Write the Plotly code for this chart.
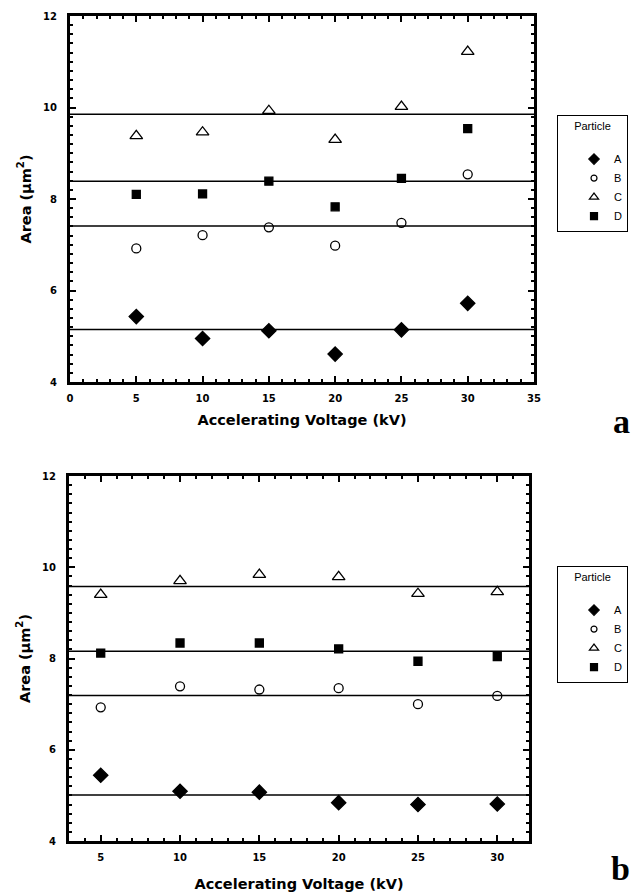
import plotly.graph_objects as go

OFF = 8            # default page margin of the html body
W, H = 639 - OFF, 892 - OFF

voltage = [5, 10, 15, 20, 25, 30]
particles = ["A", "B", "C", "D"]

# panel a values (area, µm²)
a_A = [5.43, 4.95, 5.12, 4.61, 5.14, 5.72]
a_B = [6.92, 7.21, 7.38, 6.98, 7.48, 8.54]
a_C = [9.38, 9.46, 9.93, 9.30, 10.02, 11.22]
a_D = [8.10, 8.11, 8.39, 7.83, 8.45, 9.54]
a_lines = [5.15, 7.41, 9.85, 8.39]

# panel b values
b_A = [5.44, 5.09, 5.07, 4.84, 4.80, 4.81]
b_B = [6.93, 7.39, 7.32, 7.35, 7.00, 7.18]
b_C = [9.40, 9.70, 9.84, 9.79, 9.42, 9.46]
b_D = [8.12, 8.34, 8.34, 8.21, 7.94, 8.04]
b_lines = [5.01, 7.19, 9.58, 8.16]

x_title = "Accelerating Voltage (kV)"
y_title = "Area (µm<sup>2</sup>)"

symbols = {"A": "diamond", "B": "circle-open", "C": "triangle-up-open", "D": "square"}
sizes = {"A": 11, "B": 9, "C": 11, "D": 8}
legend_sizes = {"A": 8, "B": 6, "C": 8, "D": 7}


def px(v):
    return (v - OFF) / W


def py(v):
    return 1 - (v - OFF) / H


fig = go.Figure()


def add_panel(series, xa, ya, legend):
    for name, vals in zip(particles, series):
        fig.add_trace(go.Scatter(
            x=voltage, y=vals, mode="markers", name=name,
            xaxis=xa, yaxis=ya, showlegend=False,
            marker=dict(symbol=symbols[name], size=sizes[name], color="black",
                        line=dict(color="black", width=1.3)),
        ))
    # legend entries (smaller symbols, as in the original key)
    for name in particles:
        fig.add_trace(go.Scatter(
            x=[None], y=[None], mode="markers", name=name,
            xaxis=xa, yaxis=ya, legend=legend, showlegend=True,
            marker=dict(symbol=symbols[name], size=legend_sizes[name], color="black",
                        line=dict(color="black", width=1.2)),
        ))


add_panel([a_A, a_B, a_C, a_D], "x", "y", "legend")
add_panel([b_A, b_B, b_C, b_D], "x2", "y2", "legend2")

for v in a_lines:
    fig.add_shape(type="line", xref="x domain", yref="y", x0=0, x1=1, y0=v, y1=v,
                  line=dict(color="black", width=1.5), layer="below")
for v in b_lines:
    fig.add_shape(type="line", xref="x2 domain", yref="y2", x0=0, x1=1, y0=v, y1=v,
                  line=dict(color="black", width=1.5), layer="below")

tickfont = dict(family="DejaVu Sans", size=10, color="black", weight="bold")
titlefont = dict(family="DejaVu Sans", size=14.5, color="black", weight="bold")


def xaxis(domain, rng, anchor, standoff):
    return dict(domain=domain, range=rng, anchor=anchor, tick0=0, dtick=5,
                showgrid=False, zeroline=False, showline=True, linewidth=3, linecolor="black",
                mirror="allticks", ticks="inside", ticklen=6, tickwidth=2, tickcolor="black",
                minor=dict(dtick=1, ticks="inside", ticklen=3, tickwidth=2, tickcolor="black"),
                tickfont=tickfont, ticklabelstandoff=5,
                title=dict(text=x_title, font=titlefont, standoff=standoff))


def yaxis(domain, anchor):
    return dict(domain=domain, range=[4, 12], anchor=anchor, tick0=0, dtick=2,
                showgrid=False, zeroline=False, showline=True, linewidth=3, linecolor="black",
                mirror="allticks", ticks="inside", ticklen=6, tickwidth=2, tickcolor="black",
                minor=dict(dtick=0.2, ticks="inside", ticklen=3, tickwidth=2, tickcolor="black"),
                tickfont=tickfont, ticklabelstandoff=8,
                title=dict(text=y_title, font=titlefont, standoff=9))


legend_common = dict(
    bgcolor="white", bordercolor="black", borderwidth=1,
    font=dict(family="Liberation Sans", size=11, color="black"),
    title=dict(text="Particle<br> ", side="top center",
               font=dict(family="Liberation Sans", size=11, color="black")),
    xanchor="left", yanchor="top", indentation=16, entrywidth=80,
)

fig.update_layout(
    width=W, height=H,
    margin=dict(l=0, r=0, t=0, b=0, autoexpand=False),
    paper_bgcolor="white", plot_bgcolor="white",
    showlegend=True,
    xaxis=xaxis([px(70), px(534)], [0, 35], "y", 12),
    yaxis=yaxis([py(382), py(16)], "x"),
    xaxis2=xaxis([px(69), px(529)], [3, 32], "y2", 19),
    yaxis2=yaxis([py(841), py(476)], "x2"),
    legend=dict(x=px(557), y=py(115), **legend_common),
    legend2=dict(x=px(557), y=py(566), **legend_common),
    annotations=[
        dict(text="a", xref="paper", yref="paper", x=px(621), y=py(421),
             xanchor="center", yanchor="middle", showarrow=False,
             font=dict(family="Liberation Serif", size=34, color="black", weight="bold")),
        dict(text="b", xref="paper", yref="paper", x=px(620), y=py(868),
             xanchor="center", yanchor="middle", showarrow=False,
             font=dict(family="Liberation Serif", size=34, color="black", weight="bold")),
    ],
)

fig.write_html("out.html")
